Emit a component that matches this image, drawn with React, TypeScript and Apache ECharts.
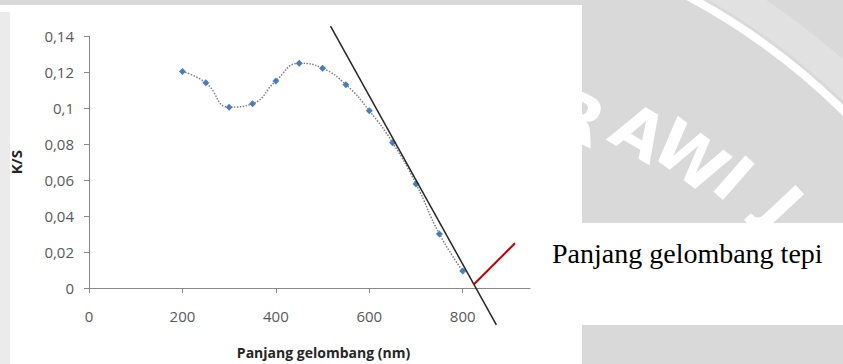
import React, { useEffect, useRef } from "react";
import * as echarts from "echarts";

// ---- data ----
const wavelengths = [200, 250, 300, 350, 400, 450, 500, 550, 600, 650, 700, 750, 800];
const ksValues = [0.1204, 0.1141, 0.1006, 0.1025, 0.1152, 0.125, 0.1222, 0.1131, 0.0986, 0.0808, 0.0579, 0.0301, 0.0094];
const tangentX = [517, 872];
const tangentY = [0.1457, -0.0205];
const pointerX = [823, 912];
const pointerY = [0.0018, 0.0249];
const xTickValues = [0, 200, 400, 600, 800];
const xMax = 944;
const yMax = 0.14;
const yStep = 0.02;
const xTitle = "Panjang gelombang (nm)";
const yTitle = "K/S";
const annotation = "Panjang gelombang tepi";
const watermarkLetters = ["R", "A", "W", "I", "J"];

const fmt = (v: number) => String(Math.round(v * 100) / 100).replace(".", ",");

export default function App() {
  const ref = useRef<HTMLDivElement>(null);
  useEffect(() => {
    document.body.style.margin = "0";
    if (!ref.current) return;
    const chart = echarts.init(ref.current, undefined, { renderer: "svg" });

    const letterPos = [
      [578, 118, -0.42],
      [639, 133, -0.53],
      [690, 157, -0.64],
      [733, 179, -0.72],
      [781, 207, -0.82],
    ];

    const font = "'Open Sans', 'Noto Sans', sans-serif";

    chart.setOption({
      animation: false,
      backgroundColor: "#d9d9d9",
      graphic: [
        {
          type: "arc",
          z: -4,
          shape: { cx: 374, cy: 586, r: 690, startAngle: -1.2, endAngle: -0.7, clockwise: true },
          style: { stroke: "#e1e1e1", lineWidth: 30, fill: "none" },
        },
        {
          type: "arc",
          z: -3,
          shape: { cx: 374, cy: 586, r: 668, startAngle: -1.2, endAngle: -0.7, clockwise: true },
          style: { stroke: "#ffffff", lineWidth: 8, fill: "none" },
        },
        ...watermarkLetters.map((ch, i) => ({
          type: "text",
          z: -3,
          x: letterPos[i][0],
          y: letterPos[i][1],
          rotation: letterPos[i][2],
          style: {
            text: ch,
            fill: "#ffffff",
            fontSize: 66,
            fontWeight: "bold",
            fontFamily: "'DejaVu Sans', sans-serif",
            align: "center",
            verticalAlign: "middle",
          },
        })),
        {
          type: "rect",
          z: -2,
          shape: { x: 0, y: 5, width: 582, height: 359 },
          style: { fill: "#ffffff" },
        },
        {
          type: "rect",
          z: -1,
          shape: { x: 0, y: 12, width: 10, height: 352 },
          style: { fill: "#ebebeb" },
        },
        {
          type: "rect",
          z: -2,
          shape: { x: 582, y: 223, width: 261, height: 102 },
          style: { fill: "#ffffff" },
        },
        {
          type: "text",
          z: 10,
          x: 552,
          y: 253,
          style: {
            text: annotation,
            fill: "#000000",
            fontSize: 28,
            fontFamily: "'Liberation Serif', 'Times New Roman', serif",
            align: "left",
            verticalAlign: "middle",
          },
        },
      ],
      grid: { left: 83, top: 36.3, width: 447, height: 257, containLabel: false },
      xAxis: {
        type: "value",
        min: 0,
        max: xMax,
        interval: 200,
        name: xTitle,
        nameLocation: "middle",
        nameGap: 57,
        nameTextStyle: {
          fontFamily: font,
          fontWeight: "bold",
          fontSize: 14,
          color: "#262626",
          padding: [0, 0, 0, 28],
        },
        axisLine: { show: true, onZero: false, lineStyle: { color: "#898989", width: 1 } },
        axisTick: { show: true, length: 5, customValues: xTickValues, lineStyle: { color: "#898989" } },
        axisLabel: {
          customValues: xTickValues,
          margin: 20,
          fontFamily: font,
          fontSize: 15,
          color: "#595959",
        },
        splitLine: { show: false },
      },
      yAxis: {
        type: "value",
        min: 0,
        max: yMax,
        interval: yStep,
        name: yTitle,
        nameLocation: "middle",
        nameGap: 66,
        nameRotate: 90,
        nameTextStyle: { fontFamily: font, fontWeight: "bold", fontSize: 15, color: "#262626" },
        axisLine: { show: true, lineStyle: { color: "#898989", width: 1 } },
        axisTick: { show: true, length: 5, lineStyle: { color: "#898989" } },
        axisLabel: {
          margin: 15,
          fontFamily: font,
          fontSize: 15,
          color: "#595959",
          formatter: fmt,
        },
        splitLine: { show: false },
      },
      series: [
        {
          type: "line",
          data: wavelengths.map((w, i) => [w, ksValues[i]]),
          smooth: 0.5,
          symbol: "diamond",
          symbolSize: 7,
          itemStyle: { color: "#4a7ebb" },
          lineStyle: { color: "#7f7f7f", width: 1.5, type: "dotted" },
          z: 3,
        },
        {
          type: "line",
          data: tangentX.map((x, i) => [x, tangentY[i]]),
          symbol: "none",
          clip: false,
          lineStyle: { color: "#262626", width: 1.5 },
          z: 4,
        },
        {
          type: "line",
          data: pointerX.map((x, i) => [x, pointerY[i]]),
          symbol: "none",
          clip: false,
          lineStyle: { color: "#c00000", width: 2 },
          z: 5,
        },
      ],
    });
    return () => chart.dispose();
  }, []);
  return <div ref={ref} style={{ width: 843, height: 364 }} />;
}
